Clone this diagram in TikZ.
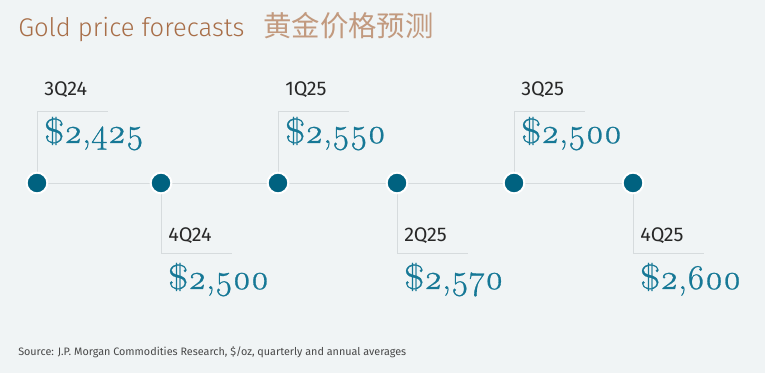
\documentclass[tikz,border=0pt]{standalone}
\usepackage{fontspec}
\setsansfont{Fira Sans}
\newfontfamily\titlefont{Fira Sans}[UprightFont=* Light]
\newfontfamily\cjkfont{Noto Sans CJK SC}
\newfontfamily\pricefont[Numbers=OldStyle, FakeBold=0.8]{Latin Modern Roman}
\definecolor{bgpaper}{RGB}{240,244,245}
\definecolor{titlebrown}{RGB}{168,110,72}
\definecolor{priceteal}{RGB}{22,120,150}
\definecolor{dotteal}{RGB}{0,98,128}
\definecolor{linegray}{RGB}{214,219,221}
\definecolor{labelgray}{RGB}{40,40,40}
\pgfdeclarelayer{bg}
\pgfsetlayers{bg,main}
\tikzset{
  dot/.style={circle, fill=dotteal, draw=white, line width=1.5pt, minimum size=15.5pt, inner sep=0pt},
  quarter/.style={anchor=base west, inner sep=0pt, font=\sffamily\fontsize{14.8}{16}\selectfont, text=labelgray},
  price/.style={anchor=base west, inner sep=0pt, font=\pricefont\fontsize{26}{28}\selectfont, text=priceteal},
  bracket/.style={draw=linegray, line width=0.6pt}
}
\begin{document}
\begin{tikzpicture}[x=0.75pt, y=-0.75pt]
    \useasboundingbox (0, 0) rectangle (765, 373);
    \node [anchor=base west, inner sep=0pt, text=titlebrown, font=\titlefont\fontsize{19.2}{22}\selectfont] (title) at (18, 37) {Gold price forecasts};
    \node [anchor=base west, inner sep=0pt, text=titlebrown!70, font=\cjkfont\fontsize{21.3}{22}\selectfont] (titlecn) at (263, 37) {黄金价格预测};

    \node [dot] (d1) at (37, 183) {};
    \node [dot] (d2) at (161, 183) {};
    \node [dot] (d3) at (278, 183) {};
    \node [dot] (d4) at (397, 183) {};
    \node [dot] (d5) at (514, 183) {};
    \node [dot] (d6) at (633, 183) {};

    \coordinate (k1) at (108, 111);
    \coordinate (k2) at (232, 253);
    \coordinate (k3) at (349, 111);
    \coordinate (k4) at (468, 253);
    \coordinate (k5) at (585, 111);
    \coordinate (k6) at (704, 253);

    \begin{pgfonlayer}{bg}
        \fill [bgpaper] (0, 0) rectangle (765, 373);
        \draw [bracket] (d1.center) -- (d6.center);
        \draw [bracket] (d1.center) |- (k1);
        \draw [bracket] (d2.center) |- (k2);
        \draw [bracket] (d3.center) |- (k3);
        \draw [bracket] (d4.center) |- (k4);
        \draw [bracket] (d5.center) |- (k5);
        \draw [bracket] (d6.center) |- (k6);
    \end{pgfonlayer}

    \node [quarter] (q1) at (44, 96) {3Q24};
    \node [price] (p1) at (44, 143) {\$2,425};
    \node [quarter] (q2) at (168, 242) {4Q24};
    \node [price] (p2) at (168, 289) {\$2,500};
    \node [quarter] (q3) at (285, 96) {1Q25};
    \node [price] (p3) at (285, 143) {\$2,550};
    \node [quarter] (q4) at (404, 242) {2Q25};
    \node [price] (p4) at (404, 289) {\$2,570};
    \node [quarter] (q5) at (521, 96) {3Q25};
    \node [price] (p5) at (521, 143) {\$2,500};
    \node [quarter] (q6) at (640, 242) {4Q25};
    \node [price] (p6) at (640, 289) {\$2,600};

    \node [anchor=base west, inner sep=0pt, text=labelgray!85, font=\sffamily\fontsize{8.1}{9}\selectfont] (source) at (18, 356) {Source: J.P. Morgan Commodities Research, \$/oz, quarterly and annual averages};
\end{tikzpicture}
\end{document}
